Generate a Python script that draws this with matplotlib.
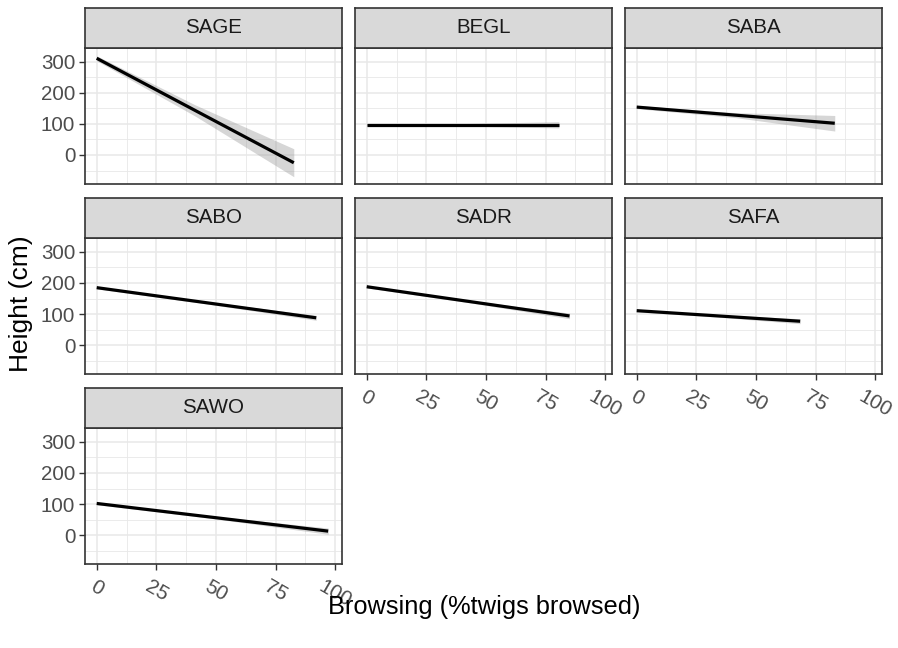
import matplotlib
matplotlib.use("Agg")
import matplotlib.pyplot as plt
from matplotlib.ticker import MultipleLocator

plt.rcParams['font.family'] = ['Liberation Sans', 'DejaVu Sans']

# ---- data ----
species = ['SAGE', 'BEGL', 'SABA', 'SABO', 'SADR', 'SAFA', 'SAWO']
x_start = [0, 0, 0, 0, 0, 0, 0]
x_end = [82.6, 80.5, 83, 92, 85, 68.5, 97]
y_start = [311, 97, 154, 185, 188, 111, 102]
y_end = [-25, 97, 102, 88, 94, 77, 13]
ci_start = [8, 3, 5, 4, 4, 4, 4]
ci_mid = [18, 4, 8, 4, 4, 4, 4]
ci_end = [45, 10, 25, 8, 9, 8, 10]

x_ticks = [0, 25, 50, 75, 100]
x_ticklabels = ['0', '25', '50', '75', '100']
y_ticks = [0, 100, 200, 300]
y_ticklabels = ['0', '100', '200', '300']
x_title = 'Browsing (%twigs browsed)'
y_title = 'Height (cm)'

# ---- layout ----
W, H = 898, 648
fig = plt.figure(figsize=(W / 100, H / 100), dpi=100)

col_left = [85, 355, 625]
panel_w = 257
row_panel_top = [47.7, 237.9, 427.9]
panel_h = 136.5
strip_h = 40.2

border_col = '#333333'
grid_col = '#E8E8E8'
tick_col = '#4D4D4D'
tick_fs = 14.8

def rect(x, y, w, h):
    return [x / W, 1 - (y + h) / H, w / W, h / H]

ncols = 3
n = len(species)
for i, sp in enumerate(species):
    r, c = divmod(i, ncols)
    ax = fig.add_axes(rect(col_left[c], row_panel_top[r], panel_w, panel_h))
    ax.set_xlim(-4.9, 102.8)
    ax.set_ylim(-94, 345)
    ax.xaxis.set_major_locator(MultipleLocator(25))
    ax.xaxis.set_minor_locator(MultipleLocator(12.5))
    ax.yaxis.set_major_locator(MultipleLocator(100))
    ax.yaxis.set_minor_locator(MultipleLocator(50))
    ax.grid(which='major', color=grid_col, linewidth=1.1, zorder=0)
    ax.grid(which='minor', color=grid_col, linewidth=0.6, zorder=0)
    ax.set_axisbelow(True)
    for s in ax.spines.values():
        s.set_color(border_col)
        s.set_linewidth(1.2)
        s.set_zorder(5)

    xs = [x_start[i], (x_start[i] + x_end[i]) / 2, x_end[i]]
    ys = [y_start[i], (y_start[i] + y_end[i]) / 2, y_end[i]]
    hw = [ci_start[i], ci_mid[i], ci_end[i]]
    ax.fill_between(xs, [a - b for a, b in zip(ys, hw)], [a + b for a, b in zip(ys, hw)],
                    color='#999999', alpha=0.4, linewidth=0, zorder=2)
    ax.plot([x_start[i], x_end[i]], [y_start[i], y_end[i]], color='black',
            linewidth=2.3, solid_capstyle='butt', zorder=3)

    # which axes to show
    show_x = (i + ncols) >= n
    show_y = (c == 0)
    ax.set_xticks(x_ticks)
    ax.set_yticks(y_ticks)
    ax.tick_params(which='minor', length=0)
    if show_x:
        ax.set_xticklabels(x_ticklabels, rotation=-30, ha='center', va='top',
                           fontsize=tick_fs, color=tick_col)
        ax.tick_params(axis='x', which='major', length=4, width=1, color=border_col, pad=5)
    else:
        ax.tick_params(axis='x', which='major', length=0, labelbottom=False)
    if show_y:
        ax.set_yticklabels(y_ticklabels, fontsize=tick_fs, color=tick_col)
        ax.tick_params(axis='y', which='major', length=4, width=1, color=border_col, pad=3)
    else:
        ax.tick_params(axis='y', which='major', length=0, labelleft=False)

    # strip
    sax = fig.add_axes(rect(col_left[c], row_panel_top[r] - strip_h, panel_w, strip_h))
    sax.set_facecolor('#D9D9D9')
    sax.set_xticks([])
    sax.set_yticks([])
    for s in sax.spines.values():
        s.set_color(border_col)
        s.set_linewidth(1.2)
    sax.text(0.5, 0.5, sp, ha='center', va='center', fontsize=tick_fs,
             color='#1A1A1A', transform=sax.transAxes)

fig.text(484 / W, 1 - 607 / H, x_title, ha='center', va='center', fontsize=18.3, color='black')
fig.text(21 / W, 1 - 304 / H, y_title, ha='center', va='center', rotation=90,
         fontsize=19.0, color='black')

fig.savefig('out.png', dpi=100, facecolor='white')
